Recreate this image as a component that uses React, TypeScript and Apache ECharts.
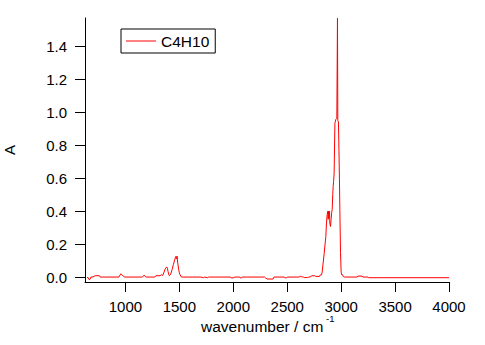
import { useEffect, useRef } from 'react';
import * as echarts from 'echarts';

const seriesName = 'C4H10';

const wavenumbers = [
  643, 652, 664, 672, 680, 700, 719, 760, 766, 940, 950, 957, 966, 981, 994,
  1157, 1166, 1173, 1180, 1189, 1272, 1281, 1321, 1333, 1346, 1358, 1365, 1377,
  1385, 1389, 1395, 1402, 1407, 1414, 1420, 1432, 1444, 1457, 1464, 1467, 1472,
  1476, 1479, 1485, 1494, 1500, 1506, 1519, 1700, 1725, 1735, 1762, 1770, 1975,
  1980, 2006, 2010, 2060, 2065, 2078, 2082, 2290, 2300, 2315, 2368, 2377, 2475,
  2480, 2494, 2500, 2610, 2620, 2630, 2650, 2658, 2690, 2700, 2720, 2726, 2756,
  2762, 2800, 2805, 2818, 2824, 2833, 2843, 2852, 2858, 2864, 2870, 2877, 2880,
  2883, 2886, 2889, 2892, 2895, 2901, 2907, 2912, 2917, 2922, 2926, 2930, 2935,
  2942, 2951, 2960, 2966, 2969, 2975, 2978, 2984, 2988, 2994, 3000, 3005, 3013,
  3020, 3034, 3150, 3155, 3195, 3200, 3250, 3255, 4000,
];

const absorbance = [
  -0.004, -0.002, -0.016, -0.014, 0, 0.001, 0.008, 0.008, 0, 0, 0.012, 0.02, 0.015, 0.005, 0,
  0, 0.006, 0.012, 0.006, 0, 0, 0.008, 0.008, 0.014, 0.01, 0.03, 0.044, 0.058,
  0.06, 0.054, 0.034, 0.015, 0.008, 0.012, 0.018, 0.044, 0.075, 0.105, 0.12, 0.125, 0.11,
  0.12, 0.127, 0.085, 0.044, 0.025, 0.014, 0, 0, -0.004, 0, -0.004, 0, 0,
  -0.005, -0.005, 0, 0, -0.005, -0.005, 0, 0, -0.006, -0.012, -0.012, 0, 0,
  -0.005, -0.005, 0, 0, 0.005, 0.002, 0, -0.003, -0.003, 0, 0.002, 0.008, 0.008,
  0.004, 0.004, 0.012, 0.013, 0.03, 0.085, 0.145, 0.206, 0.246, 0.327, 0.378, 0.4, 0.35,
  0.4, 0.36, 0.378, 0.4, 0.327, 0.307, 0.35, 0.39, 0.41, 0.5, 0.55, 0.58, 0.63,
  0.933, 0.957, 0.963, 1.57, 0.95, 0.94, 0.83, 0.6, 0.41, 0.15, 0.03, 0.014, 0.014,
  0.003, 0, 0, 0.006, 0.006, 0, 0, -0.004, -0.004,
];

const xTicks = [1000, 1500, 2000, 2500, 3000, 3500, 4000];
const yTicks = [0, 0.2, 0.4, 0.6, 0.8, 1.0, 1.2, 1.4];

const FONT = 'Arial, "Liberation Sans", sans-serif';

export default function App() {
  const ref = useRef<HTMLDivElement>(null);
  useEffect(() => {
    const chart = echarts.init(ref.current!, null, { renderer: 'svg' });
    const data = wavenumbers.map((w, i) => [w, absorbance[i]]);
    chart.setOption({
      animation: false,
      backgroundColor: '#ffffff',
      grid: {
        left: 85,
        right: 36,
        top: 18,
        bottom: 63,
        containLabel: false,
        outerBoundsMode: 'none',
      },
      legend: {
        left: 121,
        top: 29,
        padding: [4, 6, 4, 5],
        itemWidth: 30,
        itemHeight: 1,
        itemGap: 5,
        icon: 'rect',
        borderColor: '#000',
        borderWidth: 1,
        borderRadius: 0,
        backgroundColor: '#fff',
        textStyle: { color: '#000', fontSize: 15.5, fontFamily: FONT, lineHeight: 15 },
        data: [seriesName],
      },
      xAxis: {
        type: 'value',
        min: 625,
        max: 4000,
        splitLine: { show: false },
        axisLine: { onZero: false, lineStyle: { color: '#000', width: 1 } },
        axisTick: { length: 10, lineStyle: { color: '#000' }, customValues: xTicks },
        axisLabel: {
          customValues: xTicks,
          color: '#000',
          fontSize: 15,
          lineHeight: 14,
          fontFamily: FONT,
          margin: 17,
          formatter: (v: number) => String(v),
        },
      },
      yAxis: {
        type: 'value',
        min: -0.03,
        max: 1.571,
        name: 'A',
        nameLocation: 'middle',
        nameGap: 70,
        nameRotate: 90,
        nameTextStyle: { color: '#000', fontSize: 15, lineHeight: 12, fontFamily: FONT },
        splitLine: { show: false },
        axisLine: { show: true, lineStyle: { color: '#000', width: 1 } },
        axisTick: { show: true, length: 10, lineStyle: { color: '#000' }, customValues: yTicks },
        axisLabel: {
          customValues: yTicks,
          color: '#000',
          fontSize: 15,
          fontFamily: FONT,
          margin: 18,
          formatter: (v: number) => v.toFixed(1),
        },
      },
      graphic: [
        {
          type: 'text',
          x: 201,
          y: 326,
          style: {
            text: 'wavenumber / cm',
            fontSize: 15.5,
            fontFamily: FONT,
            fill: '#000',
            align: 'left',
            verticalAlign: 'middle',
          },
        },
        {
          type: 'text',
          x: 326,
          y: 318.5,
          style: {
            text: '-1',
            fontSize: 9.5,
            lineHeight: 8,
            fontFamily: FONT,
            fill: '#000',
            align: 'left',
            verticalAlign: 'middle',
          },
        },
      ],
      series: [
        {
          name: seriesName,
          type: 'line',
          data,
          symbol: 'none',
          showSymbol: false,
          clip: true,
          lineStyle: { color: '#ff0000', width: 1 },
          itemStyle: { color: '#ff0000' },
        },
      ],
    });
    return () => chart.dispose();
  }, []);
  return (
    <div
      ref={ref}
      style={{ position: 'fixed', left: 0, top: 0, width: 485, height: 345 }}
    />
  );
}
